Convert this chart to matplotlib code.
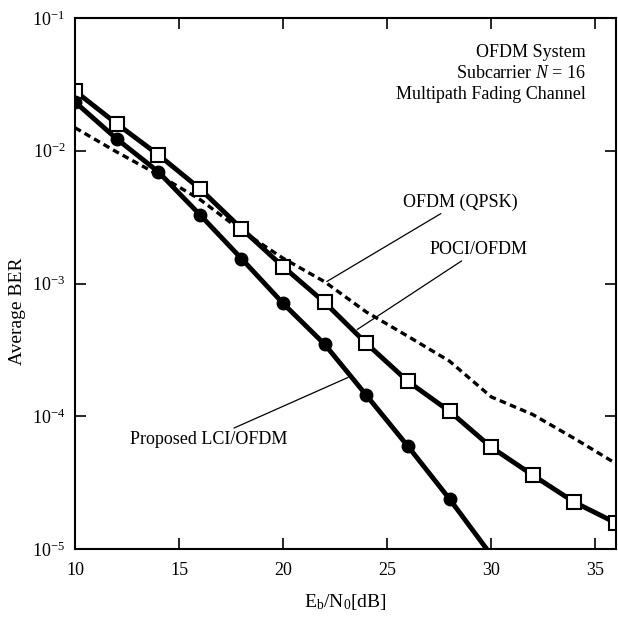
import numpy as np
import matplotlib
matplotlib.use("Agg")
import matplotlib.pyplot as plt

plt.rcParams['font.family'] = ['Liberation Serif', 'DejaVu Serif']
plt.rcParams['mathtext.fontset'] = 'custom'
plt.rcParams['mathtext.rm'] = 'Liberation Serif'
plt.rcParams['mathtext.it'] = 'Liberation Serif:italic'

# Eb/N0 [dB] and BER values
lci_x = [10, 12, 14, 16, 18, 20, 22, 24, 26, 28, 30]
lci_y = [0.0233, 0.0123, 0.00695, 0.0033, 0.00154, 7.08e-4, 3.48e-4,
         1.44e-4, 5.94e-5, 2.38e-5, 9.0e-6]

poci_x = [10, 12, 14, 16, 18, 20, 22, 24, 26, 28, 30, 32, 34, 36]
poci_y = [0.0282, 0.016, 0.00933, 0.00518, 0.00259, 0.00134, 7.2e-4,
          3.54e-4, 1.83e-4, 1.09e-4, 5.85e-5, 3.6e-5, 2.25e-5, 1.57e-5]

ofdm_x = [10, 12, 14, 16, 18, 20, 22, 24, 26, 28, 30, 32, 34, 36]
ofdm_y = [0.0149, 0.0098, 0.0066, 0.0043, 0.0025, 0.00155, 0.00103,
          6.1e-4, 4.0e-4, 2.6e-4, 1.4e-4, 1.03e-4, 6.8e-5, 4.4e-5]

xticks = [10, 15, 20, 25, 30, 35]
yticks = [1e-5, 1e-4, 1e-3, 1e-2, 1e-1]
ytick_labels = [r'$\mathregular{10^{-5}}$', r'$\mathregular{10^{-4}}$',
                r'$\mathregular{10^{-3}}$', r'$\mathregular{10^{-2}}$',
                r'$\mathregular{10^{-1}}$']

fig = plt.figure(figsize=(6.18, 6.17), dpi=100)
ax = fig.add_axes([0.1214, 0.1102, 0.8754, 0.8606])

# dashed conventional OFDM curve
ax.plot(ofdm_x, ofdm_y, color='black', lw=2.4, linestyle=(0, (2, 1.3)))
# POCI/OFDM, open squares
ax.plot(poci_x, poci_y, color='black', lw=3.5, marker='s', ms=10,
        mfc='white', mec='black', mew=1.5)
# proposed LCI/OFDM, filled circles
ax.plot(lci_x, lci_y, color='black', lw=3.5, marker='o', ms=9,
        markevery=slice(0, 10))

ax.set_yscale('log')
ax.set_xlim(10, 36)
ax.set_ylim(1e-5, 1e-1)
ax.set_xticks(xticks)
ax.set_yticks(yticks, ytick_labels)
ax.minorticks_off()
ax.tick_params(direction='in', top=True, right=True, length=8, width=1.2,
               labelsize=13)
ax.tick_params(axis='x', pad=9)
ax.tick_params(axis='y', pad=7)
for sp in ax.spines.values():
    sp.set_linewidth(1.5)

ax.set_xlabel(r'$\mathregular{E_b/N_0}$[dB]', fontsize=14, labelpad=10)
ax.set_ylabel('Average BER', fontsize=14)
ax.yaxis.set_label_coords(-0.09, 0.448)

ax.text(0.944, 0.951, 'OFDM System\nSubcarrier $\\it{N}$ = 16\nMultipath Fading Channel',
        transform=ax.transAxes, ha='right', va='top', fontsize=13,
        linespacing=1.3)

arrow = dict(arrowstyle='-', color='black', lw=0.9, shrinkA=0, shrinkB=0)
ax.annotate('OFDM (QPSK)', xy=(22.1, 1.035e-3), xytext=(25.75, 4.1e-3),
            fontsize=13, ha='left', va='center', arrowprops=arrow)
ax.annotate('POCI/OFDM', xy=(23.56, 4.5e-4), xytext=(27.05, 1.8e-3),
            fontsize=13, ha='left', va='center', arrowprops=arrow)
ax.annotate('Proposed LCI/OFDM', xy=(23.12, 1.96e-4), xytext=(20.2, 6.7e-5),
            fontsize=13, ha='right', va='center', arrowprops=arrow)

fig.savefig('out.png', dpi=100)
